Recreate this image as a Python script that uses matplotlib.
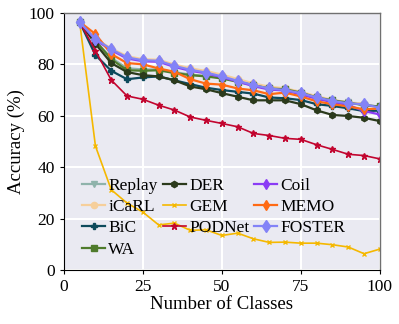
import matplotlib
matplotlib.use("Agg")
import matplotlib.pyplot as plt

classes = [5, 10, 15, 20, 25, 30, 35, 40, 45, 50, 55, 60, 65, 70, 75, 80, 85, 90, 95, 100]

replay = [96.5, 89.0, 82.5, 78.5, 78.0, 78.0, 77.0, 76.0, 75.5, 74.8, 73.5, 72.0, 70.8, 70.4, 69.0, 67.2, 66.0, 65.2, 64.2, 63.5]
icarl = [96.5, 90.0, 86.2, 83.2, 82.0, 81.8, 79.9, 78.5, 77.4, 76.0, 74.3, 72.6, 71.3, 70.7, 69.3, 67.6, 66.2, 65.2, 64.7, 62.6]
bic = [96.5, 83.6, 77.5, 74.2, 74.9, 75.3, 73.8, 72.3, 70.9, 70.0, 69.3, 68.6, 67.1, 66.8, 66.1, 64.5, 63.8, 62.9, 61.8, 62.0]
wa = [96.5, 89.2, 82.0, 77.7, 77.5, 77.7, 76.6, 75.8, 75.3, 74.5, 73.2, 71.9, 70.6, 70.3, 69.0, 67.1, 66.0, 65.1, 64.1, 63.6]
der = [96.5, 88.0, 80.5, 77.0, 75.8, 75.3, 73.8, 71.4, 70.3, 68.8, 67.4, 66.0, 66.0, 66.0, 64.5, 62.1, 60.3, 59.9, 59.2, 57.9]
gem = [96.5, 48.2, 31.2, 26.0, 22.5, 17.5, 18.2, 15.4, 15.6, 13.4, 14.3, 12.1, 10.7, 10.8, 10.4, 10.4, 9.8, 8.9, 6.3, 8.1]
podnet = [96.5, 85.3, 73.9, 67.7, 66.4, 64.1, 62.2, 59.5, 58.2, 57.0, 55.7, 53.1, 52.3, 51.2, 50.8, 48.7, 46.9, 45.0, 44.5, 43.2]
coil = [96.5, 89.5, 85.5, 82.3, 81.2, 81.0, 79.0, 77.5, 76.5, 75.0, 73.3, 71.5, 70.2, 69.8, 68.3, 66.6, 65.3, 64.2, 61.8, 60.5]
memo = [96.5, 91.8, 84.0, 80.5, 80.0, 78.4, 77.1, 74.2, 72.5, 72.1, 70.6, 69.9, 68.4, 69.0, 67.5, 65.6, 64.5, 63.6, 62.5, 62.8]
foster = [96.5, 89.8, 85.9, 82.7, 81.6, 81.4, 79.4, 77.9, 76.8, 75.3, 73.6, 71.9, 70.6, 70.0, 68.8, 67.1, 65.8, 64.8, 64.5, 63.1]

series = [
    ("Replay", replay, "#8fb3ab", "v", 4.5),
    ("iCaRL", icarl, "#f6cf9b", "o", 4.5),
    ("BiC", bic, "#0d4a5c", "P", 4.5),
    ("WA", wa, "#4f7b2c", "s", 4),
    ("DER", der, "#2b3a1c", "h", 4.5),
    ("GEM", gem, "#f5b800", "x", 3.5),
    ("PODNet", podnet, "#c2052f", "*", 4.5),
    ("Coil", coil, "#8a3cf5", "d", 5),
    ("MEMO", memo, "#ff6a14", "d", 5),
    ("FOSTER", foster, "#8383f7", "d", 6),
]

plt.rcParams['font.family'] = ['Liberation Serif', 'DejaVu Serif']

fig = plt.figure(figsize=(3.99, 3.24), dpi=100)
ax = fig.add_axes([0.160, 0.167, 0.792, 0.793])
ax.set_facecolor("#eaeaf2")
ax.grid(True, color="white", linewidth=1.5)
ax.set_axisbelow(True)

for name, vals, color, marker, ms in series:
    lw = 1.2 if name in ("GEM", "PODNet") else 1.6
    ax.plot(classes, vals, color=color, marker=marker, markersize=ms, linewidth=lw, label=name)

ax.set_xlim(0, 100)
ax.set_ylim(0, 100)
ax.set_xticks([0, 25, 50, 75, 100])
ax.set_yticks([0, 20, 40, 60, 80, 100])
ax.tick_params(labelsize=12.5, length=3, width=0.8, colors="black")
ax.set_xlabel("Number of Classes", fontsize=13.5, labelpad=1)
ax.set_ylabel("Accuracy (%)", fontsize=13.5, labelpad=3)

for s in ("left", "bottom"):
    ax.spines[s].set_color("black")
    ax.spines[s].set_linewidth(0.8)
for s in ("top", "right"):
    ax.spines[s].set_color("#707070")
    ax.spines[s].set_linewidth(1.0)

ax.legend(ncol=3, loc="lower left", bbox_to_anchor=(0.02, 0.0), frameon=False,
          fontsize=12.5, handlelength=1.3, handletextpad=0.2, columnspacing=0.3,
          labelspacing=0.3, borderaxespad=0.3)

fig.savefig("out.png", dpi=100)
